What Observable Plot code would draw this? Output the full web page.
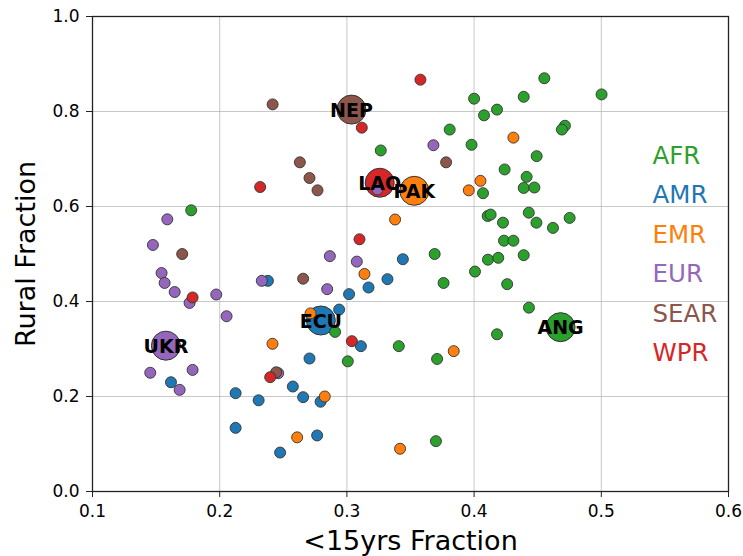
<!DOCTYPE html>
<html>
<head>
<meta charset="utf-8">
<script src="https://cdn.jsdelivr.net/npm/d3@7"></script>
<script src="https://cdn.jsdelivr.net/npm/@observablehq/plot@0.6"></script>
<style>
  html, body { margin: 0; padding: 0; background: #fff; }
  #chart { width: 743px; height: 556px; }
  svg { font-family: "DejaVu Sans", sans-serif; }
</style>
</head>
<body>
<div id="chart"></div>
<script>
// ---- Data ----
const regions = ["AFR", "AMR", "EMR", "EUR", "SEAR", "WPR"];
const regionColors = ["#2ca02c", "#1f77b4", "#ff7f0e", "#9467bd", "#8c564b", "#d62728"];

// [<15yrs fraction, rural fraction]
const AFR = [
  [0.1776,0.592],[0.4552,0.870],[0.5002,0.836],[0.400,0.827],[0.439,0.831],
  [0.418,0.804],[0.4078,0.792],[0.3808,0.762],[0.4714,0.770],[0.469,0.762],
  [0.3266,0.718],[0.398,0.730],[0.4492,0.706],[0.424,0.678],[0.4413,0.6625],
  [0.407,0.628],[0.439,0.639],[0.4474,0.640],[0.4107,0.580],[0.413,0.583],
  [0.443,0.587],[0.4227,0.566],[0.449,0.566],[0.4751,0.576],[0.462,0.555],
  [0.4235,0.528],[0.4309,0.528],[0.369,0.500],[0.4109,0.488],[0.419,0.492],
  [0.439,0.4975],[0.4007,0.463],[0.376,0.439],[0.426,0.4365],[0.4431,0.387],
  [0.418,0.331],[0.2907,0.336],[0.3408,0.306],[0.3709,0.279],[0.3007,0.274],
  [0.370,0.106]
];
const AMR = [
  [0.344,0.489],[0.3319,0.447],[0.317,0.4295],[0.3017,0.4155],[0.2939,0.383],
  [0.311,0.306],[0.2379,0.4435],[0.2706,0.280],[0.1617,0.230],[0.2575,0.221],
  [0.2125,0.207],[0.2306,0.192],[0.2656,0.1986],[0.2793,0.189],[0.2125,0.134],
  [0.2766,0.118],[0.2475,0.082]
];
const EMR = [
  [0.4309,0.745],[0.405,0.654],[0.3958,0.634],[0.3379,0.5726],[0.3138,0.458],
  [0.2714,0.375],[0.2415,0.311],[0.384,0.2955],[0.2826,0.200],[0.2609,0.114],
  [0.3418,0.090]
];
const EUR = [
  [0.368,0.729],[0.324,0.636],[0.1588,0.573],[0.1475,0.519],[0.2866,0.4955],
  [0.3078,0.484],[0.1543,0.460],[0.1567,0.439],[0.1646,0.420],[0.2331,0.4435],
  [0.2845,0.426],[0.1763,0.397],[0.1973,0.4147],[0.2054,0.369],[0.1454,0.250],
  [0.1787,0.256],[0.1685,0.214],[0.246,0.249]
];
const SEAR = [
  [0.2416,0.815],[0.263,0.693],[0.2706,0.660],[0.2769,0.634],[0.378,0.693],
  [0.1705,0.500],[0.2656,0.448],[0.2444,0.251]
];
const WPR = [
  [0.3578,0.867],[0.3117,0.766],[0.2318,0.641],[0.3099,0.531],[0.1787,0.4085],
  [0.3039,0.3165],[0.2397,0.2407]
];

// Highlighted countries
const bigCodes   = ["NEP", "LAO", "PAK", "ECU", "UKR", "ANG"];
const bigRegions = ["SEAR", "WPR", "EMR", "AMR", "EUR", "AFR"];
const bigX       = [0.3036, 0.3258, 0.353, 0.2795, 0.1577, 0.468];
const bigY       = [0.804, 0.650, 0.633, 0.360, 0.307, 0.346];

const xTicks = [0.1, 0.2, 0.3, 0.4, 0.5, 0.6];
const yTicks = [0.0, 0.2, 0.4, 0.6, 0.8, 1.0];

// ---- Build tables ----
const seriesByRegion = {AFR, AMR, EMR, EUR, SEAR, WPR};
const points = regions.flatMap(r => seriesByRegion[r].map(([x, y]) => ({region: r, x, y})));
const big = bigCodes.map((c, i) => ({code: c, region: bigRegions[i], x: bigX[i], y: bigY[i]}));
const colorOf = Object.fromEntries(regions.map((r, i) => [r, regionColors[i]]));

const chart = Plot.plot({
  width: 743,
  height: 556,
  marginLeft: 92,
  marginRight: 15,
  marginTop: 16,
  marginBottom: 65,
  style: {fontFamily: "DejaVu Sans, sans-serif", color: "black", background: "white"},
  x: {domain: [0.1, 0.6]},
  y: {domain: [0, 1]},
  marks: [
    Plot.gridX(xTicks, {stroke: "#b0b0b0", strokeOpacity: 0.7, strokeWidth: 1}),
    Plot.gridY(yTicks, {stroke: "#b0b0b0", strokeOpacity: 0.7, strokeWidth: 1}),
    Plot.axisX({ticks: xTicks, tickFormat: d3.format(".1f"), tickSize: 6, tickPadding: 7, fontSize: 17, label: null, stroke: "#222"}),
    Plot.axisY({ticks: yTicks, tickFormat: d3.format(".1f"), tickSize: 6, tickPadding: 7, fontSize: 17, label: null, stroke: "#222"}),
    Plot.dot(big, {x: "x", y: "y", r: 14.5, fill: d => colorOf[d.region], stroke: "#333", strokeWidth: 1}),
    Plot.dot(points, {x: "x", y: "y", r: 5.5, fill: d => colorOf[d.region], stroke: "#333", strokeWidth: 0.9}),
    Plot.text(big, {x: "x", y: "y", text: "code", fontSize: 19, fontWeight: "bold", fill: "black", lineAnchor: "middle", dy: 1}),
    ...regions.map((r, i) => Plot.text([r], {
      frameAnchor: "top-left", textAnchor: "start", lineAnchor: "middle",
      dx: 560, dy: 139.5 + i * 39.5,
      text: d => d, fill: regionColors[i], fontSize: 24.5
    })),
    Plot.text(["<15yrs Fraction"], {frameAnchor: "bottom", lineAnchor: "middle", textAnchor: "middle", dy: 50, text: d => d, fontSize: 27, fill: "black"}),
    Plot.text(["Rural Fraction"], {frameAnchor: "left", lineAnchor: "middle", textAnchor: "middle", dx: -66, rotate: -90, text: d => d, fontSize: 27, fill: "black"}),
    Plot.frame({stroke: "#222", strokeWidth: 1.3})
  ]
});
document.getElementById("chart").appendChild(chart);
</script>
</body>
</html>
